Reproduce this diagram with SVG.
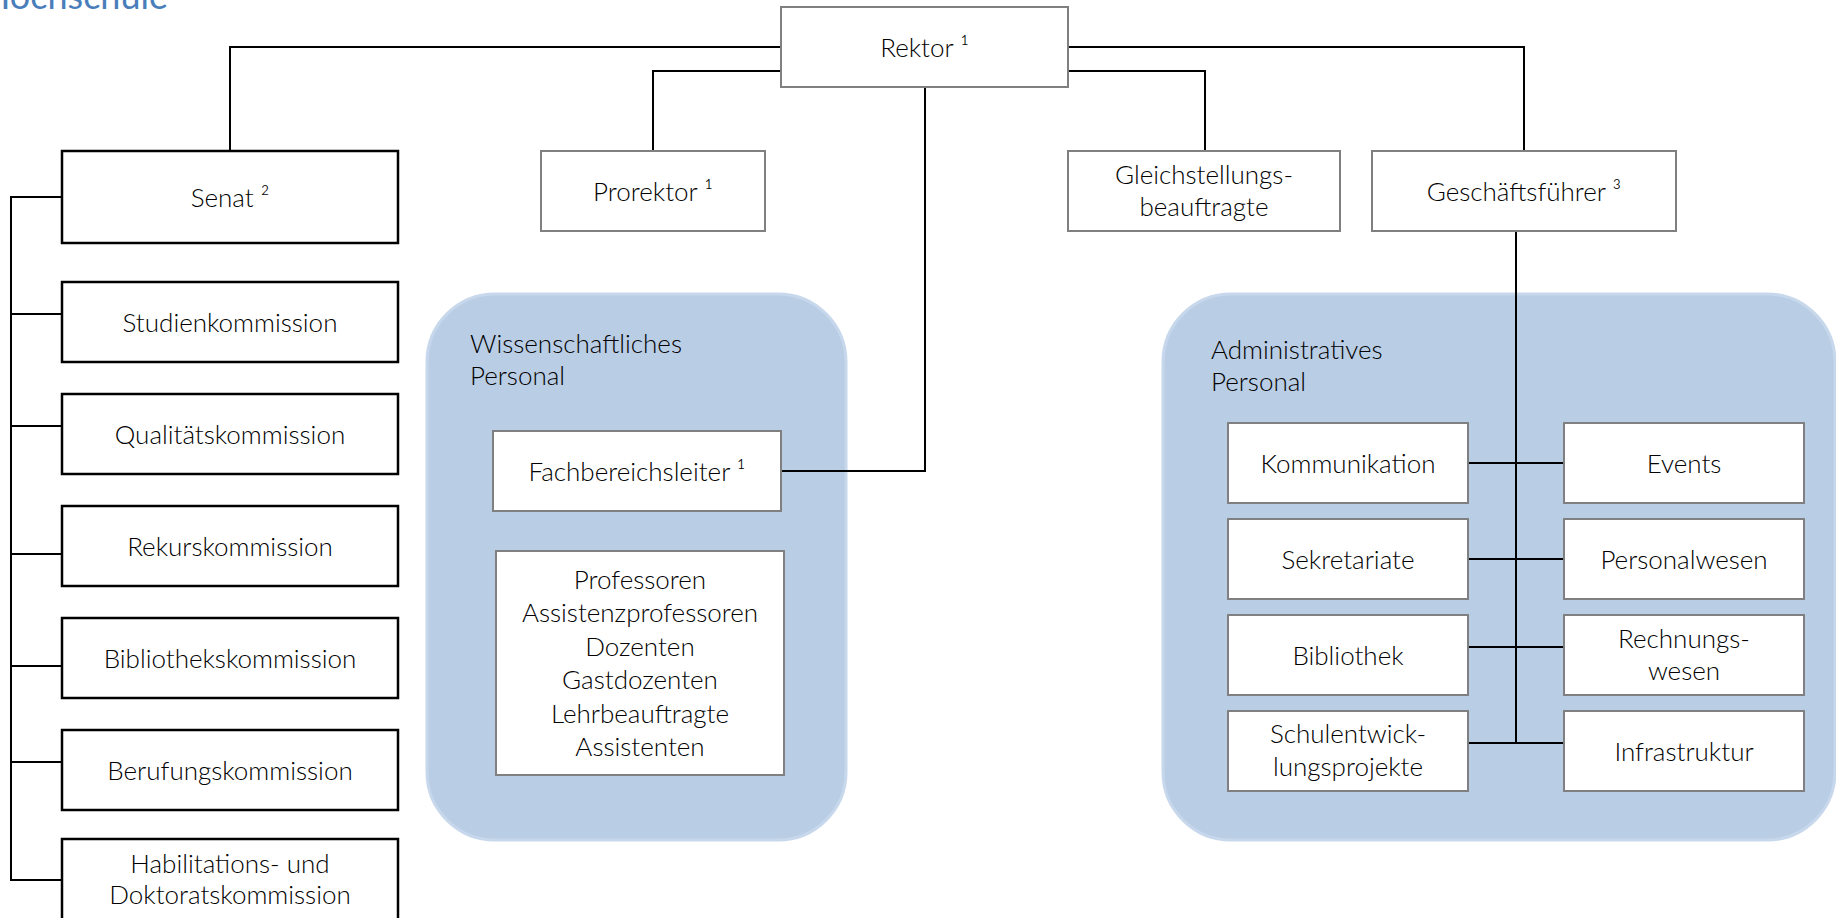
<svg xmlns="http://www.w3.org/2000/svg" width="1836" height="918" viewBox="0 0 1836 918">
<style>
  text { font-family: Lato, "Liberation Sans", sans-serif; font-weight: 300; font-size: 26px; fill: #000; text-anchor: middle; }
  .title { fill: #4a7ebb; font-size: 36px; font-weight: 400; text-anchor: end; }
  .grp { fill: #b9cde5; stroke: #c8d8ec; stroke-width: 3; }
  .glabel { text-anchor: start; }
  .box { fill: #fff; stroke: #808080; stroke-width: 2; }
  .kbox { fill: #fff; stroke: #000; stroke-width: 2.5; }
  .con { fill: none; stroke: #000; stroke-width: 2; }
</style>
<rect width="1836" height="918" fill="#fff"/>
<text class="title" x="168" y="9">Hochschule</text>

<g id="group-wiss">
  <rect class="grp" x="427" y="294" width="419" height="546" rx="68"/>
  <text class="glabel" x="470" y="353">Wissenschaftliches</text>
  <text class="glabel" x="470" y="385">Personal</text>
</g>
<g id="group-admin">
  <rect class="grp" x="1163" y="294" width="672" height="546" rx="68"/>
  <text class="glabel" x="1211" y="359">Administratives</text>
  <text class="glabel" x="1211" y="391">Personal</text>
</g>

<g id="connectors">
  <polyline class="con" points="230,151 230,47 781,47"/>
  <polyline class="con" points="1068,47 1524,47 1524,151"/>
  <polyline class="con" points="781,71 653,71 653,151"/>
  <polyline class="con" points="1068,71 1205,71 1205,151"/>
  <polyline class="con" points="925,87 925,471 781,471"/>
  <polyline class="con" points="62,197 11,197 11,880 62,880"/>
  <line class="con" x1="11" y1="314" x2="62" y2="314"/>
  <line class="con" x1="11" y1="426" x2="62" y2="426"/>
  <line class="con" x1="11" y1="554" x2="62" y2="554"/>
  <line class="con" x1="11" y1="666" x2="62" y2="666"/>
  <line class="con" x1="11" y1="762" x2="62" y2="762"/>
  <line class="con" x1="1516" y1="231" x2="1516" y2="743"/>
  <line class="con" x1="1468" y1="463" x2="1564" y2="463"/>
  <line class="con" x1="1468" y1="559" x2="1564" y2="559"/>
  <line class="con" x1="1468" y1="647" x2="1564" y2="647"/>
  <line class="con" x1="1468" y1="743" x2="1564" y2="743"/>
</g>

<g id="rektor"><rect class="box" x="781" y="7" width="287" height="80"/><text x="924.5" y="57">Rektor ¹</text></g>
<g id="prorektor"><rect class="box" x="541" y="151" width="224" height="80"/><text x="653" y="201">Prorektor ¹</text></g>
<g id="gleichstellung"><rect class="box" x="1068" y="151" width="272" height="80"/><text x="1204" y="184">Gleichstellungs-</text><text x="1204" y="216">beauftragte</text></g>
<g id="geschaeftsfuehrer"><rect class="box" x="1372" y="151" width="304" height="80"/><text x="1524" y="201">Geschäftsführer ³</text></g>

<g id="senat"><rect class="kbox" x="62" y="151" width="336" height="92"/><text x="230" y="207">Senat ²</text></g>
<g id="studienkommission"><rect class="kbox" x="62" y="282" width="336" height="80"/><text x="230" y="332">Studienkommission</text></g>
<g id="qualitaetskommission"><rect class="kbox" x="62" y="394" width="336" height="80"/><text x="230" y="444">Qualitätskommission</text></g>
<g id="rekurskommission"><rect class="kbox" x="62" y="506" width="336" height="80"/><text x="230" y="556">Rekurskommission</text></g>
<g id="bibliothekskommission"><rect class="kbox" x="62" y="618" width="336" height="80"/><text x="230" y="668">Bibliothekskommission</text></g>
<g id="berufungskommission"><rect class="kbox" x="62" y="730" width="336" height="80"/><text x="230" y="780">Berufungskommission</text></g>
<g id="habilitationskommission"><rect class="kbox" x="62" y="839" width="336" height="90"/><text x="230" y="873">Habilitations- und</text><text x="230" y="904">Doktoratskommission</text></g>

<g id="fachbereichsleiter"><rect class="box" x="493" y="431" width="288" height="80"/><text x="637" y="481">Fachbereichsleiter ¹</text></g>
<g id="lehrkoerper"><rect class="box" x="496" y="551" width="288" height="224"/>
  <text x="640" y="589">Professoren</text>
  <text x="640" y="622">Assistenzprofessoren</text>
  <text x="640" y="656">Dozenten</text>
  <text x="640" y="689">Gastdozenten</text>
  <text x="640" y="723">Lehrbeauftragte</text>
  <text x="640" y="756">Assistenten</text>
</g>

<g id="kommunikation"><rect class="box" x="1228" y="423" width="240" height="80"/><text x="1348" y="473">Kommunikation</text></g>
<g id="sekretariate"><rect class="box" x="1228" y="519" width="240" height="80"/><text x="1348" y="569">Sekretariate</text></g>
<g id="bibliothek"><rect class="box" x="1228" y="615" width="240" height="80"/><text x="1348" y="665">Bibliothek</text></g>
<g id="schulentwicklung"><rect class="box" x="1228" y="711" width="240" height="80"/><text x="1348" y="743">Schulentwick-</text><text x="1348" y="776">lungsprojekte</text></g>
<g id="events"><rect class="box" x="1564" y="423" width="240" height="80"/><text x="1684" y="473">Events</text></g>
<g id="personalwesen"><rect class="box" x="1564" y="519" width="240" height="80"/><text x="1684" y="569">Personalwesen</text></g>
<g id="rechnungswesen"><rect class="box" x="1564" y="615" width="240" height="80"/><text x="1684" y="648">Rechnungs-</text><text x="1684" y="680">wesen</text></g>
<g id="infrastruktur"><rect class="box" x="1564" y="711" width="240" height="80"/><text x="1684" y="761">Infrastruktur</text></g>
</svg>
